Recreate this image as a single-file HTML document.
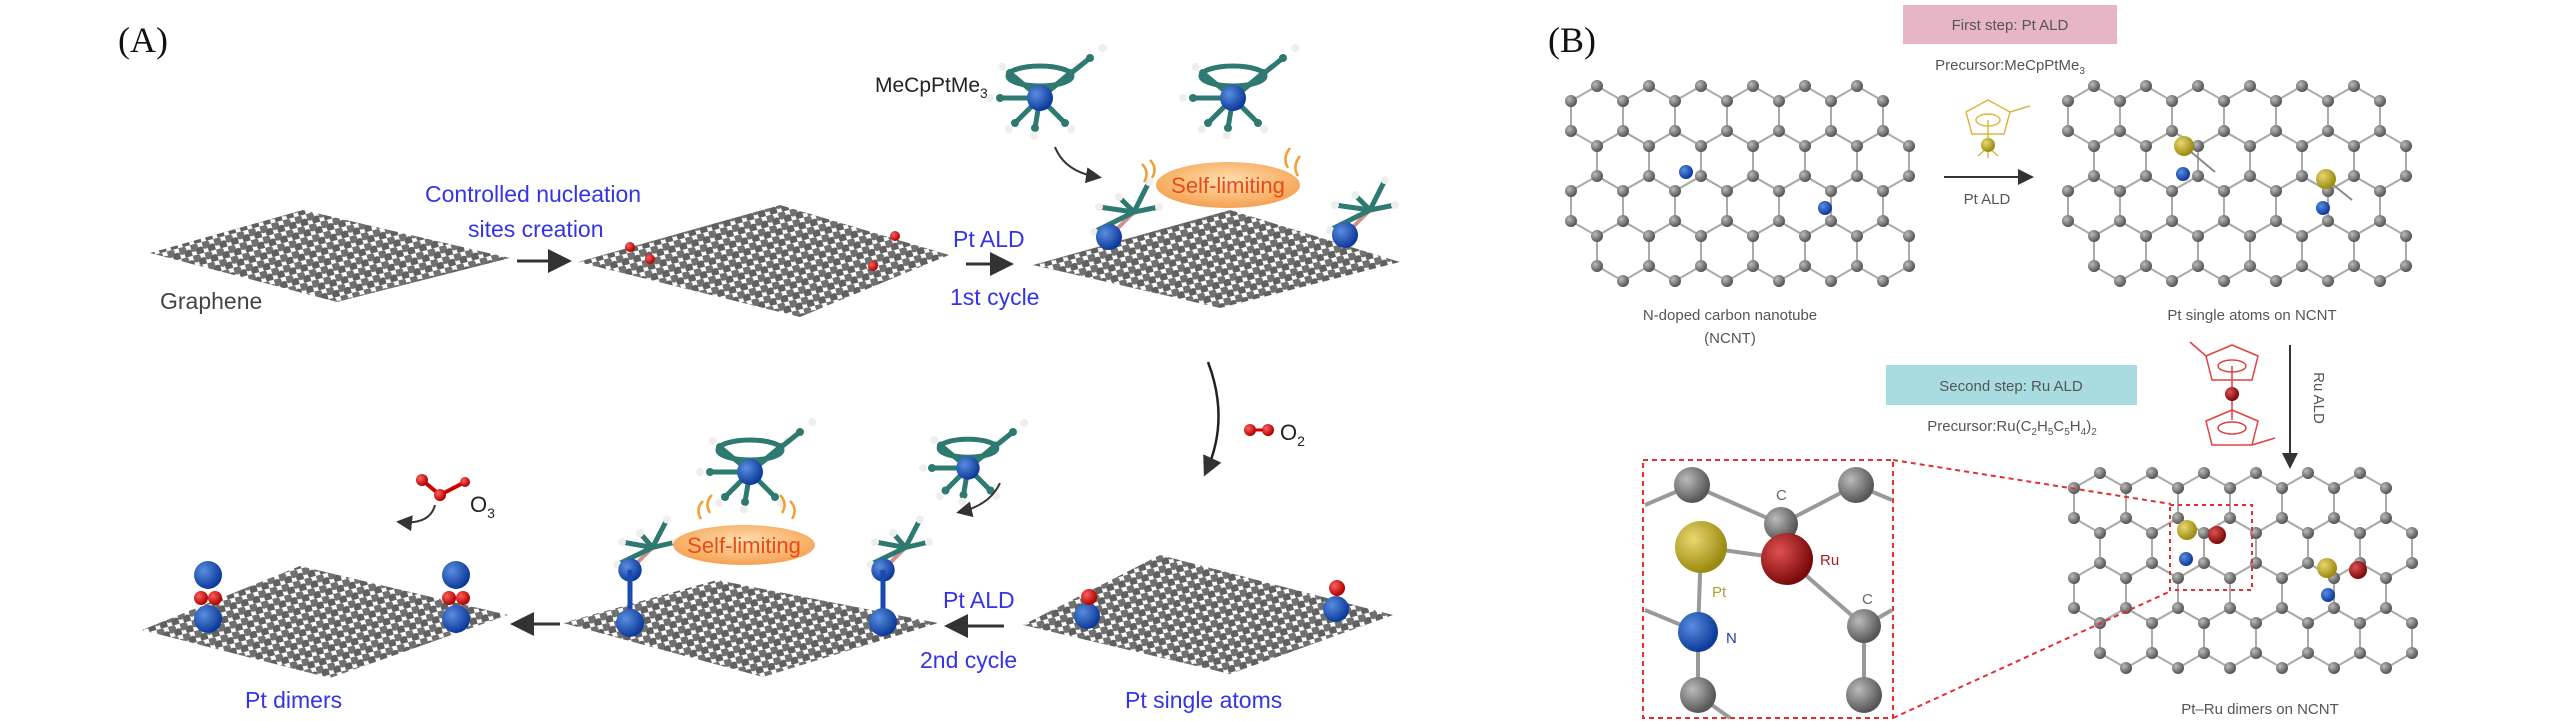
<!DOCTYPE html>
<html><head><meta charset="utf-8">
<style>
html,body{margin:0;padding:0;background:#fff;}
svg{display:block;}
.b{font-family:"Liberation Sans",sans-serif;fill:#3434e6;font-size:23px;}
.g{font-family:"Liberation Sans",sans-serif;fill:#555;font-size:15px;}
.s{font-family:"Liberation Serif",serif;fill:#111;font-size:36px;}
</style></head>
<body>
<svg id="sv" width="2567" height="721" viewBox="0 0 2567 721" xmlns="http://www.w3.org/2000/svg">
<defs>
<radialGradient id="gb" cx="35%" cy="35%" r="65%"><stop offset="0" stop-color="#bbb"/><stop offset="1" stop-color="#555"/></radialGradient>
<radialGradient id="bl" cx="35%" cy="35%" r="65%"><stop offset="0" stop-color="#5a8ee0"/><stop offset="1" stop-color="#0c3a9a"/></radialGradient>
<radialGradient id="rd" cx="35%" cy="35%" r="65%"><stop offset="0" stop-color="#ff6060"/><stop offset="1" stop-color="#b00000"/></radialGradient>
<radialGradient id="yl" cx="35%" cy="35%" r="65%"><stop offset="0" stop-color="#e8d870"/><stop offset="1" stop-color="#9a8a10"/></radialGradient>
<radialGradient id="ru" cx="35%" cy="35%" r="65%"><stop offset="0" stop-color="#e05050"/><stop offset="1" stop-color="#7a0a0a"/></radialGradient>
<radialGradient id="or" cx="50%" cy="40%" r="60%"><stop offset="0" stop-color="#ffe0b0"/><stop offset="1" stop-color="#f5a050"/></radialGradient>
<pattern id="gp" width="12" height="11" patternUnits="userSpaceOnUse" patternTransform="rotate(-15)">
<circle cx="3" cy="3" r="4.5" fill="#707070"/><circle cx="9" cy="8.5" r="4.5" fill="#606060"/>
</pattern>
<marker id="ah" markerWidth="8" markerHeight="8" refX="6" refY="4" orient="auto" markerUnits="strokeWidth"><path d="M0,0 L8,4 L0,8 z" fill="#333"/></marker>
</defs>

<text class="s" x="118" y="52">(A)</text>
<text class="s" x="1548" y="52">(B)</text>

<polygon points="150,253 303,210 510,258 337,302" fill="url(#gp)"/>
<polygon points="578,262 780,205 949,255 800,317" fill="url(#gp)"/>
<polygon points="1033,265 1230,210 1400,262 1220,308" fill="url(#gp)"/>
<polygon points="1023,625 1160,555 1393,615 1230,674" fill="url(#gp)"/>
<polygon points="563,623 717,580 938,623 763,677" fill="url(#gp)"/>
<polygon points="142,630 300,566 508,615 330,678" fill="url(#gp)"/>

<text x="160" y="309" style="font-family:'Liberation Sans',sans-serif;font-size:23px;fill:#444">Graphene</text>
<text class="b" x="425" y="202">Controlled nucleation</text>
<text class="b" x="468" y="237">sites creation</text>
<line x1="517" y1="261" x2="566" y2="261" stroke="#333" stroke-width="3" marker-end="url(#ah)"/>
<circle cx="630" cy="247" r="5" fill="url(#rd)"/><circle cx="650" cy="259" r="5" fill="url(#rd)"/>
<circle cx="895" cy="236" r="5" fill="url(#rd)"/><circle cx="873" cy="266" r="5" fill="url(#rd)"/>
<text class="b" x="953" y="247">Pt ALD</text>
<line x1="966" y1="264" x2="1008" y2="264" stroke="#333" stroke-width="3" marker-end="url(#ah)"/>
<text class="b" x="950" y="305">1st cycle</text>

<text x="875" y="92" style="font-family:'Liberation Sans',sans-serif;font-size:21px;fill:#222">MeCpPtMe<tspan font-size="14" dy="6">3</tspan></text>
<path d="M1055,147 Q1065,172 1098,177" fill="none" stroke="#333" stroke-width="2" marker-end="url(#ah)"/>

<g id="mols"></g>

<ellipse cx="1228" cy="185" rx="72" ry="23" fill="url(#or)"/>
<text x="1228" y="193" text-anchor="middle" style="font-family:'Liberation Sans',sans-serif;font-size:22px;fill:#e84a1a">Self-limiting</text>
<ellipse cx="744" cy="545" rx="71" ry="20" fill="url(#or)"/>
<text x="744" y="553" text-anchor="middle" style="font-family:'Liberation Sans',sans-serif;font-size:22px;fill:#e84a1a">Self-limiting</text>
<g fill="none" stroke="#f0a030" stroke-width="2.5">
<path d="M1150,160 q8,8 2,18"/><path d="M1142,164 q8,8 2,18"/>
<path d="M1290,148 q-8,10 -2,20"/><path d="M1300,156 q-8,10 -2,20"/>
<path d="M712,495 q-8,8 -2,18"/><path d="M703,501 q-8,8 -2,18"/>
<path d="M780,495 q8,8 2,18"/><path d="M790,501 q8,8 2,18"/>
</g>

<path d="M1208,362 Q1230,420 1206,472" fill="none" stroke="#222" stroke-width="2.5" marker-end="url(#ah)"/>
<circle cx="1250" cy="430" r="6" fill="url(#rd)"/><circle cx="1268" cy="430" r="6" fill="url(#rd)"/>
<line x1="1255" y1="430" x2="1263" y2="430" stroke="#c00" stroke-width="3"/>
<text x="1280" y="440" style="font-family:'Liberation Sans',sans-serif;font-size:22px;fill:#222">O<tspan font-size="14" dy="6">2</tspan></text>

<text class="b" x="943" y="608">Pt ALD</text>
<line x1="1004" y1="626" x2="950" y2="626" stroke="#333" stroke-width="3" marker-end="url(#ah)"/>
<text class="b" x="920" y="668">2nd cycle</text>
<text class="b" x="1125" y="708">Pt single atoms</text>
<line x1="560" y1="624" x2="516" y2="624" stroke="#333" stroke-width="3" marker-end="url(#ah)"/>
<text class="b" x="245" y="708">Pt dimers</text>
<path d="M1000,483 Q990,505 960,512" fill="none" stroke="#333" stroke-width="2" marker-end="url(#ah)"/>

<g stroke="#c00" stroke-width="4"><line x1="422" y1="480" x2="440" y2="495"/><line x1="440" y1="495" x2="465" y2="482"/></g>
<circle cx="422" cy="480" r="6" fill="url(#rd)"/><circle cx="440" cy="495" r="6" fill="url(#rd)"/><circle cx="465" cy="482" r="5" fill="url(#rd)"/>
<text x="470" y="512" style="font-family:'Liberation Sans',sans-serif;font-size:22px;fill:#222">O<tspan font-size="14" dy="6">3</tspan></text>
<path d="M435,505 Q430,525 400,522" fill="none" stroke="#333" stroke-width="2" marker-end="url(#ah)"/>

<g id="pts"></g>

<rect x="1903" y="5" width="214" height="39" fill="#e6b6c6"/>
<text class="g" x="2010" y="30" text-anchor="middle">First step: Pt ALD</text>
<text class="g" x="2010" y="70" text-anchor="middle">Precursor:MeCpPtMe<tspan font-size="10" dy="4">3</tspan></text>
<g id="grids"></g>
<g fill="none" stroke="#d8b840" stroke-width="1.5">
<polygon points="1988,100 2010,112 2004,134 1972,134 1966,112"/>
<ellipse cx="1988" cy="120" rx="12" ry="6"/>
<line x1="2010" y1="112" x2="2030" y2="106"/>
<line x1="1988" y1="120" x2="1988" y2="142"/>
<line x1="1988" y1="147" x2="1978" y2="156"/><line x1="1988" y1="147" x2="1998" y2="156"/><line x1="1988" y1="147" x2="1988" y2="158"/>
</g>
<circle cx="1988" cy="145" r="7" fill="url(#yl)"/>
<line x1="1944" y1="177" x2="2030" y2="177" stroke="#333" stroke-width="2" marker-end="url(#ah)"/>
<text class="g" x="1987" y="204" text-anchor="middle">Pt ALD</text>
<text class="g" x="1730" y="320" text-anchor="middle">N-doped carbon nanotube</text>
<text class="g" x="1730" y="343" text-anchor="middle">(NCNT)</text>
<text class="g" x="2252" y="320" text-anchor="middle">Pt single atoms on NCNT</text>

<rect x="1886" y="365" width="251" height="40" fill="#a8dce0"/>
<text class="g" x="2011" y="391" text-anchor="middle">Second step: Ru ALD</text>
<text class="g" x="2012" y="431" text-anchor="middle">Precursor:Ru(C<tspan font-size="10" dy="4">2</tspan><tspan dy="-4">H</tspan><tspan font-size="10" dy="4">5</tspan><tspan dy="-4">C</tspan><tspan font-size="10" dy="4">5</tspan><tspan dy="-4">H</tspan><tspan font-size="10" dy="4">4</tspan><tspan dy="-4">)</tspan><tspan font-size="10" dy="4">2</tspan></text>
<g fill="none" stroke="#e04040" stroke-width="1.5">
<polygon points="2232,345 2258,356 2252,380 2212,380 2206,356"/>
<ellipse cx="2232" cy="366" rx="14" ry="6"/>
<line x1="2206" y1="356" x2="2190" y2="342"/>
<line x1="2232" y1="366" x2="2232" y2="420"/>
<polygon points="2232,410 2258,421 2252,445 2212,445 2206,421"/>
<ellipse cx="2232" cy="428" rx="14" ry="6"/>
<line x1="2252" y1="445" x2="2275" y2="438"/>
</g>
<circle cx="2232" cy="394" r="7" fill="url(#ru)"/>
<line x1="2290" y1="345" x2="2290" y2="465" stroke="#333" stroke-width="2" marker-end="url(#ah)"/>
<text class="g" transform="translate(2314,398) rotate(90)" text-anchor="middle">Ru ALD</text>
<text class="g" x="2260" y="714" text-anchor="middle">Pt–Ru dimers on NCNT</text>

<rect x="1643" y="460" width="250" height="258" fill="#fff" stroke="#e03030" stroke-width="2" stroke-dasharray="5,4"/>
<line x1="1893" y1="460" x2="2171" y2="504" stroke="#e03030" stroke-width="2" stroke-dasharray="5,4"/>
<line x1="1893" y1="718" x2="2171" y2="591" stroke="#e03030" stroke-width="2" stroke-dasharray="5,4"/>
<g stroke="#999" stroke-width="4">
<line x1="1645" y1="505" x2="1692" y2="485"/><line x1="1692" y1="485" x2="1781" y2="524"/><line x1="1781" y1="524" x2="1856" y2="485"/><line x1="1856" y1="485" x2="1892" y2="500"/>
<line x1="1781" y1="524" x2="1787" y2="559"/><line x1="1701" y1="547" x2="1787" y2="559"/><line x1="1701" y1="547" x2="1698" y2="632"/>
<line x1="1787" y1="559" x2="1864" y2="626"/><line x1="1864" y1="626" x2="1864" y2="695"/><line x1="1864" y1="626" x2="1892" y2="610"/>
<line x1="1698" y1="632" x2="1698" y2="695"/><line x1="1698" y1="632" x2="1645" y2="610"/>
<line x1="1698" y1="695" x2="1730" y2="718"/>
</g>
<circle cx="1692" cy="485" r="18" fill="url(#gb)"/><circle cx="1856" cy="485" r="18" fill="url(#gb)"/>
<circle cx="1781" cy="524" r="17" fill="url(#gb)"/>
<circle cx="1864" cy="626" r="17" fill="url(#gb)"/><circle cx="1698" cy="695" r="18" fill="url(#gb)"/><circle cx="1864" cy="695" r="18" fill="url(#gb)"/>
<circle cx="1701" cy="547" r="26" fill="url(#yl)"/>
<circle cx="1787" cy="559" r="26" fill="url(#ru)"/>
<circle cx="1698" cy="632" r="20" fill="url(#bl)"/>
<g style="font-family:'Liberation Sans',sans-serif;font-size:15px">
<text x="1776" y="500" fill="#666">C</text><text x="1820" y="565" fill="#a02020">Ru</text>
<text x="1712" y="597" fill="#b0a030">Pt</text><text x="1726" y="643" fill="#2040a0">N</text><text x="1862" y="604" fill="#666">C</text>
</g>
<g id="top"></g>
</svg>
<script>
var NS="http://www.w3.org/2000/svg";
function el(p,t,a){var e=document.createElementNS(NS,t);for(var k in a)e.setAttribute(k,a[k]);p.appendChild(e);return e;}
var G=document.getElementById("grids");
function grid(x0,y0,cols,rows,a,rad){
  var w=Math.sqrt(3)*a;var pts={};var lines=[];
  for(var r=0;r<rows;r++){for(var c=0;c<cols;c++){
    var cx=x0+c*w+(r%2?w/2:0),cy=y0+r*1.5*a;
    var v=[];for(var i=0;i<6;i++){var an=Math.PI/180*(60*i-90);v.push([Math.round(cx+a*Math.cos(an)),Math.round(cy+a*Math.sin(an))]);}
    for(var i=0;i<6;i++){var p=v[i],q=v[(i+1)%6];lines.push([p,q]);pts[p[0]+","+p[1]]=p;}
  }}
  lines.forEach(function(l){el(G,"line",{x1:l[0][0],y1:l[0][1],x2:l[1][0],y2:l[1][1],stroke:"#aaa","stroke-width":2});});
  for(var k in pts){el(G,"circle",{cx:pts[k][0],cy:pts[k][1],r:rad,fill:"url(#gb)"});}
}
grid(1597,116,6,4,30,6);
grid(2094,116,6,4,30,6);
grid(2100,503,6,4,30,6);
function ball(p,x,y,r,f){el(p,"circle",{cx:x,cy:y,r:r,fill:f});}
var T=document.getElementById("top");
el(T,"rect",{x:2170,y:505,width:82,height:85,fill:"none",stroke:"#e03030","stroke-width":2,"stroke-dasharray":"4,4"});
ball(T,1686,172,7,"url(#bl)");ball(T,1825,208,7,"url(#bl)");
el(T,"line",{x1:2184,y1:146,x2:2215,y2:172,stroke:"#888","stroke-width":2});
ball(T,2184,146,10,"url(#yl)");ball(T,2183,174,7,"url(#bl)");
el(T,"line",{x1:2326,y1:179,x2:2352,y2:200,stroke:"#888","stroke-width":2});
ball(T,2326,179,10,"url(#yl)");ball(T,2323,208,7,"url(#bl)");
ball(T,2187,530,10,"url(#yl)");ball(T,2217,535,9,"url(#ru)");ball(T,2186,559,7,"url(#bl)");
ball(T,2327,568,10,"url(#yl)");ball(T,2358,570,9,"url(#ru)");ball(T,2328,595,7,"url(#bl)");
var M=document.getElementById("mols");
function mol(x,y,s){
  var c="#2e7a70";
  [[-30,-25],[30,-25],[-25,25],[25,25],[-5,30],[50,-40],[-40,0]].forEach(function(d){
    el(M,"line",{x1:x,y1:y,x2:x+d[0]*s,y2:y+d[1]*s,stroke:c,"stroke-width":5});
    ball(M,x+d[0]*s,y+d[1]*s,4,c);ball(M,x+d[0]*s*1.25,y+d[1]*s*1.25,4,"#eee");
  });
  el(M,"ellipse",{cx:x,cy:y-22*s,rx:32*s,ry:10*s,fill:"none",stroke:c,"stroke-width":5});
  ball(M,x,y,13*s,"url(#bl)");
}
mol(1040,98,1);mol(1233,98,1);mol(750,472,1);mol(968,468,0.9);
function anchored(x,y,s){
  var c="#2e7a70";
  el(M,"line",{x1:x,y1:y,x2:x+25*s,y2:y-25*s,stroke:"#d09090","stroke-width":4});
  [[-20,-20],[-25,5],[0,-30],[30,-45],[40,-20]].forEach(function(d){
    el(M,"line",{x1:x+25*s,y1:y-25*s,x2:x+d[0]*s+10,y2:y+d[1]*s-10,stroke:c,"stroke-width":5});
    ball(M,x+d[0]*s+10,y+d[1]*s-10,4,"#eee");
  });
  ball(M,x,y,13*s,"url(#bl)");
}
anchored(1109,237,1);anchored(1345,235,1);
var P=document.getElementById("pts");
[[208],[456]].forEach(function(a){var x=a[0];ball(P,x,575,14,"url(#bl)");ball(P,x,619,14,"url(#bl)");ball(P,x-7,598,7,"url(#rd)");ball(P,x+7,598,7,"url(#rd)");});
ball(P,1087,616,13,"url(#bl)");ball(P,1089,597,8,"url(#rd)");
ball(P,1336,609,13,"url(#bl)");ball(P,1337,588,8,"url(#rd)");
[[630,570,623],[883,570,622]].forEach(function(a){
 el(P,"line",{x1:a[0],y1:a[1],x2:a[0],y2:a[2],stroke:"#1a4ab0","stroke-width":5});
 ball(P,a[0],a[2],14,"url(#bl)");
 anchored(a[0],a[1],0.9);
});
</script>
</body></html>
